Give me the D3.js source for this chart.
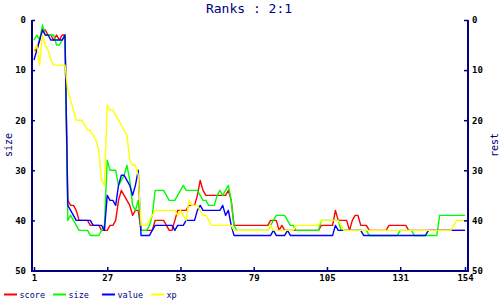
<!DOCTYPE html>
<html lang="en">
<head>
    <meta charset="UTF-8">
    <title>Ranks : 2:1</title>
    <script src="https://d3js.org/d3.v7.min.js"></script>
    <style>
        body { margin: 0; background: #fff; }
        svg { display: block; }
        text { font-family: "DejaVu Sans Mono", monospace; }
        .tick text { fill: #000; font-size: 9px; font-weight: bold; }
        .tick line { stroke: #000080; stroke-width: 1.5px; }
    </style>
</head>
<body>
    <svg width="500" height="300"></svg>
    <script>
        const xTicks = [1, 27, 53, 79, 105, 131, 154];
        const yTicks = [0, 10, 20, 30, 40, 50];

        const score = [6, 6, 4, 2, 2, 3, 3, 4, 3, 4, 3, 3,
            36, 37, 37, 38, 40, 40, 40, 40, 41, 41, 41, 41, 42, 42,
            42, 41, 41, 40, 36, 34, 35, 36, 37, 39, 38, 38,
            42, 42, 42, 42, 42, 40, 40, 40, 40, 41, 42, 42,
            40, 38, 38, 38, 38, 37, 37, 37, 35, 32,
            34, 35, 35, 35, 35, 35, 35, 35, 35, 34, 36, 41,
            41, 41, 41, 41, 41, 41, 41, 41, 41, 41, 41, 41,
            40, 40, 40, 42, 41, 42,
            42, 42, 42, 42, 42, 42, 42, 42, 42, 42, 42, 42,
            41, 41, 41, 41, 41, 38, 40, 40, 40, 40,
            42, 40, 39, 39, 41, 41, 41,
            42, 42, 42, 42, 42, 42, 42,
            41, 41, 41, 41, 41, 41, 41,
            42, 42, 42, 42, 42, 42, 42, 42, 42, 42, 42, 42, 42, 42, 42, 42, 42, 42, 42, 42, 42];

        const size = [4, 3, 4, 1, 3, 3, 3, 3, 5, 5, 4, 3,
            40, 39, 40, 41, 42, 42, 42, 42, 43, 43, 43, 43, 42, 41,
            28, 30, 30, 30, 33, 32, 31, 29, 32, 37, 38, 36,
            42, 42, 42, 41, 39, 34, 34, 34, 34, 35, 36, 36,
            36, 35, 34, 33, 34, 34, 34, 34, 34, 35,
            36, 36, 37, 37, 37, 35, 34, 35, 34, 33, 36, 41,
            42, 42, 42, 42, 42, 42, 42, 42, 42, 42, 42, 42,
            41, 40, 39, 39, 39, 39, 40, 41, 41,
            42, 42, 42, 42, 42, 42, 42, 42, 42,
            40, 40, 40, 40, 40, 40, 40,
            42, 42, 42, 42, 42, 42, 42, 42, 42, 42,
            43, 43, 43, 43, 43, 43, 43, 43, 43, 43, 43,
            42, 42, 42, 42, 42,
            43, 43, 43, 43, 43, 43, 43, 43, 43,
            39, 39, 39, 39, 39, 39, 39, 39, 39, 39];

        const value = [8, 6, 4, 2, 3, 3, 4, 4, 4, 4, 4, 3,
            37, 38, 39, 40, 40, 40, 40, 40, 40, 41, 41, 41, 41, 42,
            35, 36, 36, 37, 33, 31, 31, 32, 33, 35, 33, 30,
            43, 43, 43, 43, 42, 41, 41, 41, 41, 41, 41, 41,
            42, 41, 41, 41, 40, 40, 40, 40, 38, 37,
            38, 38, 38, 38, 38, 38, 38, 37, 39, 38, 41, 43,
            43, 43, 43, 43, 43, 43, 43, 43, 43, 43, 43, 43, 43,
            42, 43, 43, 43, 43, 42,
            43, 43, 43, 43, 43, 43, 43, 43, 43, 43, 43, 43, 43, 43, 43, 43,
            41, 42, 42, 42, 42, 42, 42, 42, 42, 42,
            43, 43, 43, 43, 43, 43, 43, 43, 43, 43, 43, 43, 43, 43, 43, 43, 43, 43, 43, 43, 43, 43, 43,
            42, 42, 42, 42, 42, 42, 42, 42, 42, 42, 42, 42, 42, 42];

        const xp = [6, 5, 9, 3, 5, 6, 8, 9, 9, 9, 9, 9,
            14, 16, 18, 20, 20, 20, 21, 22, 22, 23, 24, 26, 32, 33,
            17, 18, 18, 19, 20, 21, 22, 23, 28, 29, 29, 31,
            41, 41, 41, 40, 39, 38, 38, 38, 38, 38, 38, 38,
            38, 39, 38, 39, 40, 36, 37, 37, 37, 38,
            39, 39, 40, 41, 41, 41, 41, 41, 41, 41, 41, 42,
            42, 42, 42, 42, 42, 42, 42, 42, 42, 42, 42, 42,
            41,
            42, 42, 42, 42, 42, 42, 42, 42,
            41, 41, 41, 41, 41, 41, 41, 41, 41,
            40, 40, 40, 40, 40, 40, 40,
            41,
            42, 42, 42, 42, 42, 42, 42, 42, 42, 42, 42, 42, 42, 42, 42, 42, 42, 42, 42, 42,
            42, 42, 42, 42, 42, 42, 42, 42, 42, 42, 42, 42, 42, 42, 42, 42, 42, 42, 42,
            41,
            40, 40, 40, 40];

        const series = [
            { name: "score", color: "#ff0000", values: score },
            { name: "size", color: "#00ff00", values: size },
            { name: "value", color: "#0000ff", values: value },
            { name: "xp", color: "#ffff00", values: xp }
        ];

        const navy = "#000080";
        const svg = d3.select("svg");

        const x = d3.scaleLinear().domain([1, 154]).range([34, 465]);
        const y = d3.scaleLinear().domain([0, 50]).range([20, 270.5]);

        const left = 32, right = 468, bottom = 271;

        // title and axis names
        svg.append("text")
            .attr("x", 249).attr("y", 12.7)
            .attr("text-anchor", "middle")
            .attr("fill", navy)
            .style("font-size", "13px")
            .text("Ranks : 2:1");

        svg.append("text")
            .attr("transform", "translate(12,145) rotate(-90)")
            .attr("text-anchor", "middle")
            .attr("fill", navy)
            .style("font-size", "10px")
            .text("size");

        svg.append("text")
            .attr("transform", "translate(498,145) rotate(-90)")
            .attr("text-anchor", "middle")
            .attr("fill", navy)
            .style("font-size", "10px")
            .text("rest");

        // series lines
        const line = d3.line()
            .x((d, i) => x(i + 1))
            .y(d => y(d));

        svg.append("g")
            .selectAll("path")
            .data(series)
            .join("path")
            .attr("fill", "none")
            .attr("stroke", d => d.color)
            .attr("stroke-width", 1.4)
            .attr("stroke-linejoin", "round")
            .attr("d", d => line(d.values));

        // axes
        const gl = svg.append("g")
            .attr("transform", `translate(${left},0)`)
            .call(d3.axisLeft(y).tickValues(yTicks).tickSizeInner(-3).tickSizeOuter(0).tickPadding(6));
        const gr = svg.append("g")
            .attr("transform", `translate(${right},0)`)
            .call(d3.axisRight(y).tickValues(yTicks).tickSizeInner(-4).tickSizeOuter(0).tickPadding(4));
        const gb = svg.append("g")
            .attr("transform", `translate(0,${bottom})`)
            .call(d3.axisBottom(x).tickValues(xTicks).tickSizeInner(-4).tickSizeOuter(0).tickPadding(4));

        [gl, gr, gb].forEach(g => {
            g.select(".domain").remove();
            g.attr("font-family", null).attr("font-size", null);
        });

        svg.append("path")
            .attr("fill", "none")
            .attr("stroke", navy)
            .attr("stroke-width", 2)
            .attr("d", `M${left},${y(0)}V${bottom}H${right}V${y(0)}`);

        // legend
        const legend = svg.append("g")
            .selectAll("g")
            .data(series)
            .join("g")
            .attr("transform", (d, i) => `translate(${4 + i * 49},0)`);

        legend.append("line")
            .attr("x1", 0).attr("x2", 13)
            .attr("y1", 294.5).attr("y2", 294.5)
            .attr("stroke", d => d.color)
            .attr("stroke-width", 2);

        legend.append("text")
            .attr("x", 15.5).attr("y", 297.5)
            .attr("fill", navy)
            .style("font-size", "8.5px")
            .text(d => d.name);
    </script>
</body>
</html>
